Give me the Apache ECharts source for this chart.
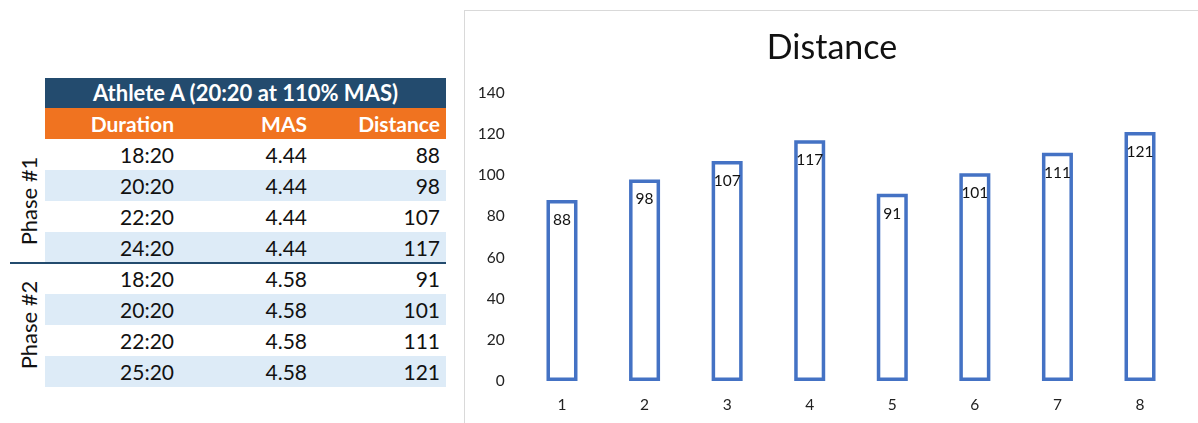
<!DOCTYPE html>
<html>
<head>
<meta charset="utf-8">
<script src="https://cdn.jsdelivr.net/npm/echarts@6/dist/echarts.min.js"></script>
<style>
  html, body { margin: 0; padding: 0; background: #fff; }
  body { width: 1198px; height: 423px; position: relative; overflow: hidden; font-family: Lato, "Open Sans", sans-serif; color: #111; }
  #tbl { position: absolute; left: 45px; top: 78px; border-collapse: collapse; font-size: 21px; }
  #tbl td { padding: 0; height: 31px; line-height: 31px; text-align: right; }
  #tbl tr.title td { background: #234b6e; color: #fff; font-weight: bold; text-align: center; height: 30px; line-height: 30px; font-size: 22px; }
  #tbl tr.head td { background: #f07320; color: #fff; font-weight: bold; font-size: 21px; }
  #tbl tr.alt td { background: #ddebf7; }
  .phase { position: absolute; font-size: 22px; white-space: nowrap; transform: translate(-50%, -50%) rotate(-90deg); }
  #divider { position: absolute; left: 10px; top: 262px; width: 436px; height: 2px; background: #234b6e; }
  #chart { position: absolute; left: 464px; top: 10px; width: 740px; height: 420px; border: 1px solid #d9d9d9; box-sizing: border-box; }
</style>
</head>
<body>
<table id="tbl"></table>
<div id="divider"></div>
<div id="chart"></div>
<script>
// table data
var tableTitle = 'Athlete A (20:20 at 110% MAS)';
var columnNames = ['Duration', 'MAS', 'Distance'];
var durations = ['18:20', '20:20', '22:20', '24:20', '18:20', '20:20', '22:20', '25:20'];
var masValues = ['4.44', '4.44', '4.44', '4.44', '4.58', '4.58', '4.58', '4.58'];
var distances = [88, 98, 107, 117, 91, 101, 111, 121];
var phaseNames = ['Phase #1', 'Phase #2'];

// chart data
var categories = ['1', '2', '3', '4', '5', '6', '7', '8'];

// build the table
var colWidths = [145, 123, 133];
var colPad = [16, 6, 6];
var tbl = document.getElementById('tbl');
var html = '<tr class="title"><td colspan="3">' + tableTitle + '</td></tr>';
html += '<tr class="head">';
columnNames.forEach(function (n, i) {
  html += '<td style="width:' + colWidths[i] + 'px;padding-right:' + colPad[i] + 'px;box-sizing:border-box">' + n + '</td>';
});
html += '</tr>';
for (var i = 0; i < durations.length; i++) {
  var row = [durations[i], masValues[i], distances[i]];
  html += '<tr' + (i % 2 === 1 ? ' class="alt"' : '') + '>';
  row.forEach(function (v, j) {
    html += '<td style="padding-right:' + colPad[j] + 'px">' + v + '</td>';
  });
  html += '</tr>';
}
tbl.innerHTML = html;

// phase labels, one per group of 4 rows
phaseNames.forEach(function (p, k) {
  var d = document.createElement('div');
  d.className = 'phase';
  d.textContent = p;
  d.style.left = '28px';
  d.style.top = (139 + 31 * 4 * k + 62) + 'px';
  document.body.appendChild(d);
});

var myChart = echarts.init(document.getElementById('chart'));
var option = {
  animation: false,
  textStyle: { fontFamily: 'Lato, "Open Sans", sans-serif' },
  title: {
    text: 'Distance',
    left: 362,
    top: 15,
    textAlign: 'center',
    textStyle: { fontSize: 34, fontWeight: 'normal', color: '#111' }
  },
  grid: { left: 55.7, top: 82, width: 660.6, height: 288 },
  xAxis: {
    type: 'category',
    data: categories,
    axisLine: { show: false },
    axisTick: { show: false },
    axisLabel: { fontSize: 15.5, color: '#222', margin: 16 }
  },
  yAxis: {
    type: 'value',
    min: 0,
    max: 140,
    interval: 20,
    axisLine: { show: false },
    axisTick: { show: false },
    splitLine: { show: false },
    axisLabel: { fontSize: 15.5, color: '#222', margin: 16 }
  },
  series: [{
    type: 'bar',
    data: distances,
    barWidth: 31,
    itemStyle: { color: '#fff', borderColor: '#4472c4', borderWidth: 3.5 },
    label: {
      show: true,
      position: 'insideTop',
      distance: 12,
      fontSize: 15.5,
      color: '#111'
    }
  }]
};
myChart.setOption(option);
</script>
</body>
</html>
